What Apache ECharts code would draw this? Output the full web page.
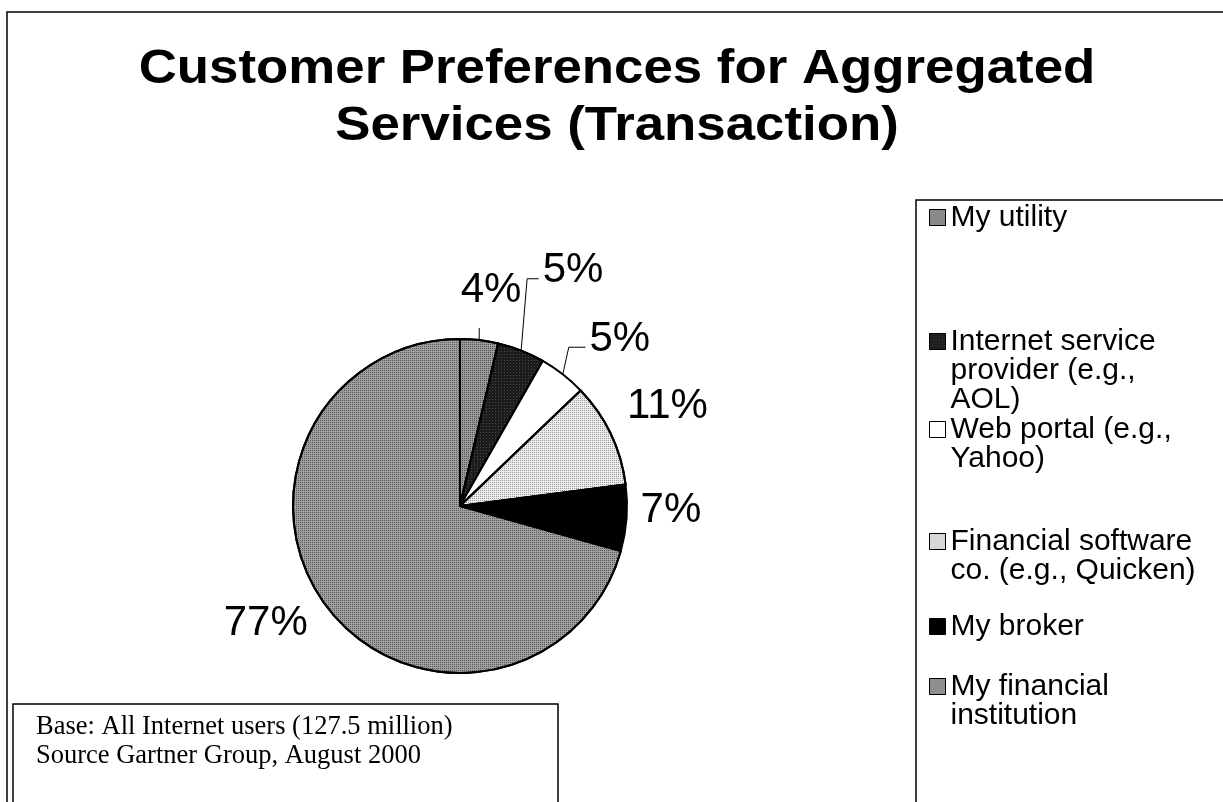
<!DOCTYPE html>
<html>
<head>
<meta charset="utf-8">
<script src="https://cdn.jsdelivr.net/npm/echarts@6/dist/echarts.min.js"></script>
<style>
html,body{margin:0;padding:0;background:#fff;}
#c{width:1223px;height:802px;}
</style>
</head>
<body>
<div id="c"></div>
<script>
// ---- data ----
const titleText = 'Customer Preferences for Aggregated\nServices (Transaction)';
const categories = [
  'My utility',
  'Internet service\nprovider (e.g.,\nAOL)',
  'Web portal (e.g.,\nYahoo)',
  'Financial software\nco. (e.g., Quicken)',
  'My broker',
  'My financial\ninstitution'
];
const values = [4, 5, 5, 11, 7, 77];
const noteLines = ['Base: All Internet users (127.5 million)', 'Source Gartner Group, August 2000'];

// ---- style / layout ----
const colors = ['#9a9a9a', '#1c1c1c', '#ffffff', '#ececec', '#000000', '#a0a0a0'];
const decals = [
  {symbol: 'rect', symbolSize: 1, dashArrayX: [1, 1], dashArrayY: [1, 1], color: 'rgba(0,0,0,0.45)'},
  {symbol: 'rect', symbolSize: 1, dashArrayX: [1, 2], dashArrayY: [1, 2], color: 'rgba(255,255,255,0.2)'},
  null,
  {symbol: 'rect', symbolSize: 1, dashArrayX: [1, 1], dashArrayY: [1, 1], color: 'rgba(0,0,0,0.35)'},
  null,
  {symbol: 'rect', symbolSize: 1, dashArrayX: [1, 1], dashArrayY: [1, 1], color: 'rgba(0,0,0,0.45)'}
];
const legendFirstLineY = [217, 341, 429, 541, 626, 686];
const labelRadius = [218, 261, 231, 230, 211, 227];
const labelShiftDeg = [1.6, 4.2, 5.8, 0, -3, 6];
const hasLeader = [true, true, true, false, false, false];
const LH = 29;

const chart = echarts.init(document.getElementById('c'), null, {renderer: 'canvas'});

const seriesData = categories.map((name, i) => {
  const st = {color: colors[i]};
  if (decals[i]) st.decal = decals[i];
  return {
    name: name,
    value: values[i],
    itemStyle: st,
    labelLine: {show: hasLeader[i]}
  };
});

const legends = categories.map((name, i) => {
  const n = name.split('\n').length;
  return {
    data: [name],
    left: 929,
    top: legendFirstLineY[i] - (2 * n - 1) * LH / 2,
    padding: 0,
    icon: 'rect',
    itemWidth: 16,
    itemHeight: 16,
    selectedMode: false,
    itemStyle: {borderColor: '#000', borderWidth: 1},
    formatter: function (nm) { return '\n'.repeat(n - 1) + nm; },
    textStyle: {
      fontFamily: '"Liberation Sans", Arial, sans-serif',
      fontSize: 30,
      lineHeight: LH,
      color: '#000'
    }
  };
});

chart.setOption({
  animation: false,
  backgroundColor: '#fff',
  legend: legends,
  graphic: [
    {type: 'rect', silent: true, z: -10,
     shape: {x: 7, y: 12, width: 1300, height: 900},
     style: {fill: 'none', stroke: '#000', lineWidth: 1.5}},
    {type: 'rect', silent: true, z: -10,
     shape: {x: 916, y: 200, width: 400, height: 700},
     style: {fill: 'none', stroke: '#000', lineWidth: 1.5}},
    {type: 'rect', silent: true, z: -10,
     shape: {x: 13, y: 704, width: 545, height: 200},
     style: {fill: 'none', stroke: '#000', lineWidth: 1.5}},
    {type: 'text', silent: true, x: 617, y: 41, scaleX: 1.1,
     style: {text: titleText, align: 'center', verticalAlign: 'top',
             fontFamily: '"Liberation Sans", Arial, sans-serif', fontWeight: 'bold',
             fontSize: 48, lineHeight: 57, fill: '#000'}},
    {type: 'text', silent: true, x: 36, y: 713,
     style: {text: noteLines.join('\n'), align: 'left', verticalAlign: 'top',
             fontFamily: '"Liberation Serif", "Times New Roman", serif',
             fontSize: 26.5, lineHeight: 29, fill: '#000'}}
  ],
  series: [{
    type: 'pie',
    center: [460, 506],
    radius: 167,
    startAngle: 90,
    clockwise: true,
    avoidLabelOverlap: false,
    itemStyle: {borderColor: '#000', borderWidth: 2},
    emphasis: {disabled: true},
    label: {
      show: true,
      position: 'outside',
      formatter: '{c}%',
      fontFamily: '"Liberation Sans", Arial, sans-serif',
      fontSize: 42,
      color: '#000'
    },
    labelLine: {show: true, length: 5, length2: 5, lineStyle: {color: '#000', width: 1}},
    labelLayout: function (p) {
      const i = p.dataIndex;
      let lay = null;
      try { lay = chart.getModel().getSeriesByIndex(0).getData().getItemLayout(i); } catch (e) { lay = null; }
      if (!lay) return {};
      const mid = (lay.startAngle + lay.endAngle) / 2;
      const a = mid + labelShiftDeg[i] * Math.PI / 180;
      const x = lay.cx + labelRadius[i] * Math.cos(a);
      const y = lay.cy + labelRadius[i] * Math.sin(a);
      const res = {x: x, y: y, align: 'center', verticalAlign: 'middle'};
      if (hasLeader[i]) {
        const ex = lay.cx + lay.r * Math.cos(mid);
        const ey = lay.cy + lay.r * Math.sin(mid);
        const w = p.labelRect.width;
        const left = x - w / 2;
        const ly = y + 8;
        if (left - 4 > ex + 6) {
          res.labelLinePoints = [[ex, ey], [ex + 6, ly], [left - 4, ly]];
        } else {
          res.labelLinePoints = [[ex, ey], [ex, ey - 12]];
        }
      }
      return res;
    },
    data: seriesData
  }]
});
</script>
</body>
</html>
